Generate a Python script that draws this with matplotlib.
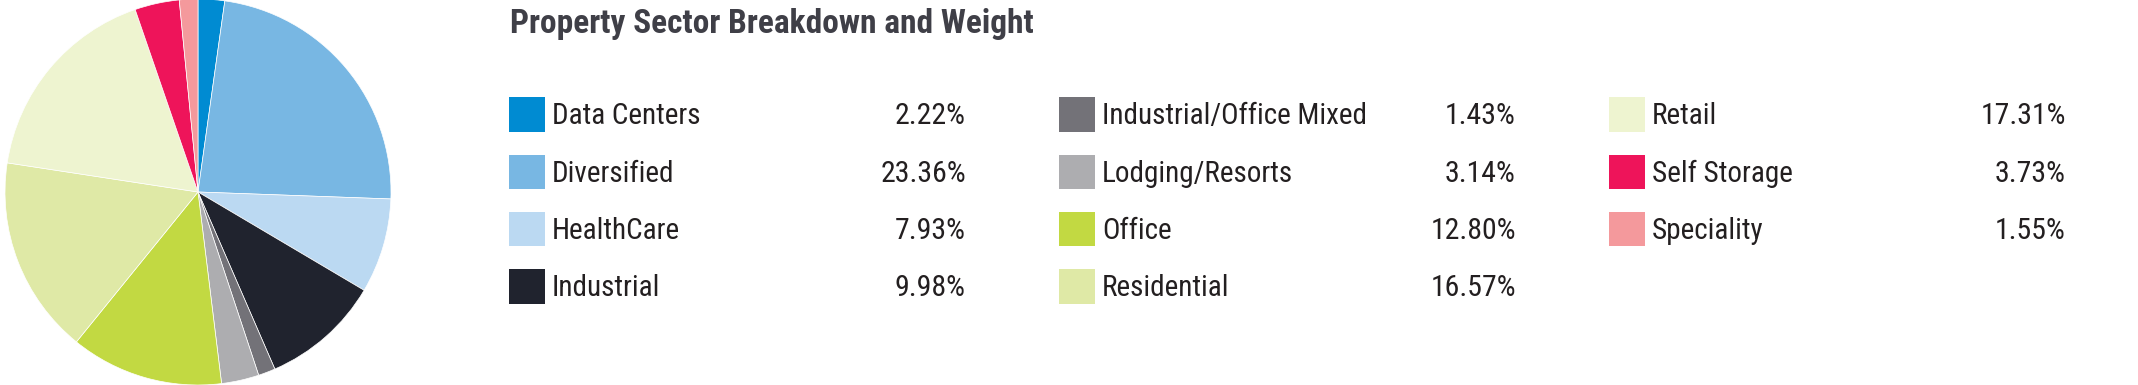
import matplotlib
matplotlib.use("Agg")
import matplotlib.pyplot as plt
from matplotlib.patches import Rectangle

# data
sectors = [
    "Data Centers", "Diversified", "HealthCare", "Industrial",
    "Industrial/Office Mixed", "Lodging/Resorts", "Office", "Residential",
    "Retail", "Self Storage", "Speciality",
]
weights = [2.22, 23.36, 7.93, 9.98, 1.43, 3.14, 12.80, 16.57, 17.31, 3.73, 1.55]
colors = [
    "#008bd2", "#78b7e3", "#bbd9f2", "#20232e", "#737278", "#adadb0",
    "#c2d942", "#dfe9a6", "#eef4d0", "#ee145a", "#f4999c",
]
title = "Property Sector Breakdown and Weight"

family = ["Roboto Condensed", "Archivo Narrow", "Liberation Sans"]

W, H = 2138, 385
fig = plt.figure(figsize=(W / 100, H / 100), dpi=100)

# pie, center ~(198,192) px, radius ~193 px
cx, cy, r = 198, 192, 193
ax_pie = fig.add_axes([(cx - r) / W, (H - cy - r) / H, 2 * r / W, 2 * r / H])
ax_pie.pie(weights, colors=colors, startangle=90, counterclock=False, radius=1,
           wedgeprops=dict(edgecolor="white", linewidth=0.5))
ax_pie.set_xlim(-1, 1)
ax_pie.set_ylim(-1, 1)
ax_pie.set_aspect("auto")
ax_pie.axis("off")

# overlay in pixel coordinates for the legend table
ax = fig.add_axes([0, 0, 1, 1])
ax.set_xlim(0, W)
ax.set_ylim(H, 0)
ax.axis("off")

ax.text(510, 33.5, title, fontsize=24, fontweight="bold", color="#3f3f47",
        family=family, va="baseline", ha="left")

col_x = [509, 1059, 1609]
val_right = [966, 1516, 2066]
row_y = [114.5, 171.7, 229, 286.3]
per_col = 4
for i, (name, w, c) in enumerate(zip(sectors, weights, colors)):
    col, row = divmod(i, per_col)
    x0, yc = col_x[col], row_y[row]
    ax.add_patch(Rectangle((x0, yc - 17.2), 36, 34.4, facecolor=c, edgecolor="none"))
    ax.text(x0 + 43, yc + 9.8, name, fontsize=21, color="#231f20", family=family,
            va="baseline", ha="left")
    ax.text(val_right[col], yc + 9.8, f"{w:.2f}%", fontsize=21.5, color="#231f20",
            family=family, va="baseline", ha="right")

fig.savefig("out.png", dpi=100, facecolor="white")
